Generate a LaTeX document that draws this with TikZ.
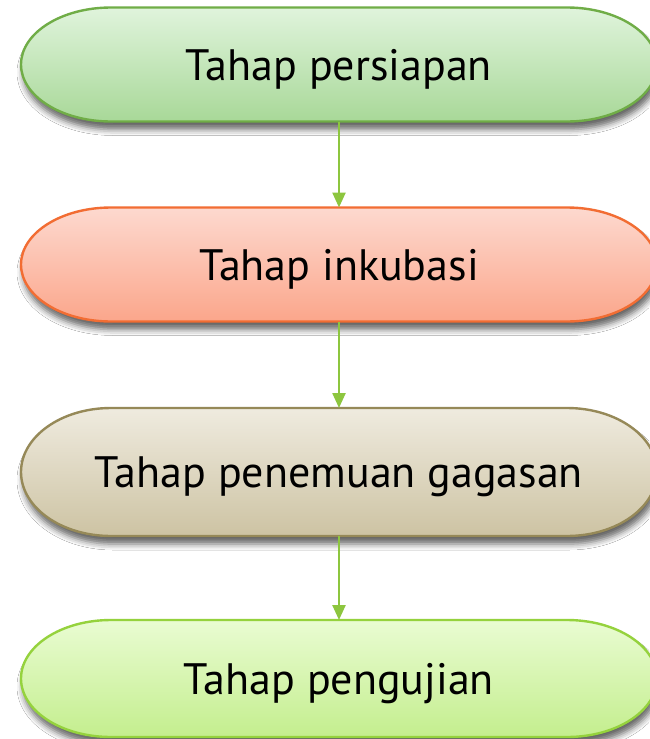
\documentclass[tikz,border=0pt]{standalone}
\usepackage{fontspec}
\setmainfont{PT Sans}
\usetikzlibrary{shadows.blur,arrows.meta,calc,backgrounds}
\definecolor{gAtop}{HTML}{E0F4DC}
\definecolor{gAbot}{HTML}{A8D898}
\definecolor{gAline}{HTML}{70AD47}
\definecolor{gBtop}{HTML}{FDD9CF}
\definecolor{gBbot}{HTML}{FBA68B}
\definecolor{gBline}{HTML}{F26D33}
\definecolor{gCtop}{HTML}{EFEBDF}
\definecolor{gCbot}{HTML}{CDC3A3}
\definecolor{gCline}{HTML}{968958}
\definecolor{gDtop}{HTML}{E9FCD2}
\definecolor{gDbot}{HTML}{C4EE8E}
\definecolor{gDline}{HTML}{95D23D}
\definecolor{connclr}{HTML}{8DC63F}
\tikzset{
  stagebox/.style={minimum width=636pt, inner sep=0pt, outer sep=0pt,
    font=\fontsize{44}{48}\selectfont, text height=31pt, text depth=0pt},
  termshape/.style={line width=2.4pt,
    blur shadow={shadow xshift=2pt, shadow yshift=-8pt, shadow blur radius=6pt, shadow opacity=60}},
  conn/.style={draw=connclr, line width=2.4pt, -{Triangle[length=15pt,width=13pt]}}
}
\newcommand{\termpath}[4]{%
  \path[termshape, draw=#4, top color=#2, bottom color=#3]
    let \p1=(#1.north west), \p2=(#1.south east), \n1={(\y1-\y2)/2} in
    (\x1+90pt,\y1) -- (\x2-90pt,\y1)
    arc[start angle=90, end angle=-90, x radius=90pt, y radius=\n1]
    -- (\x1+90pt,\y2)
    arc[start angle=270, end angle=90, x radius=90pt, y radius=\n1] -- cycle;}
\begin{document}
\begin{tikzpicture}[x=1pt,y=-1pt]
\clip (0,0) rectangle (649,739);
\node[stagebox, minimum height=114pt] (s1) at (339,64.5) {Tahap persiapan};
\node[stagebox, minimum height=114pt] (s2) at (339,264.5) {Tahap inkubasi};
\node[stagebox, minimum height=128pt] (s3) at (339,472) {Tahap penemuan gagasan};
\node[stagebox, minimum height=117pt] (s4) at (339,678.5) {Tahap pengujian};
\begin{scope}[on background layer]
\fill[white] (0,0) rectangle (649,739);
\termpath{s1}{gAtop}{gAbot}{gAline}
\termpath{s2}{gBtop}{gBbot}{gBline}
\termpath{s3}{gCtop}{gCbot}{gCline}
\termpath{s4}{gDtop}{gDbot}{gDline}
\end{scope}
\draw[conn] (s1.south) -- (s2.north);
\draw[conn] (s2.south) -- (s3.north);
\draw[conn] (s3.south) -- (s4.north);
\end{tikzpicture}
\end{document}
